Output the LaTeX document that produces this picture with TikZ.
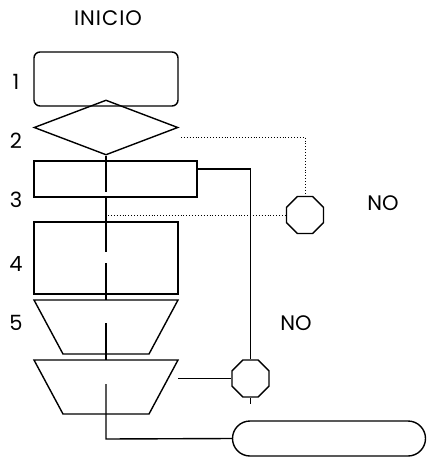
\documentclass[tikz,border=0pt]{standalone}
\usepackage{fontspec}
\setsansfont{Poppins}
\usetikzlibrary{shapes.geometric,shapes.misc}
\begin{document}
\begin{tikzpicture}[x=1pt,y=-1pt,font=\sffamily\fontsize{21}{21}\selectfont,line width=1.4pt,
  blk/.style={draw,inner sep=0pt},
  oct/.style={draw,regular polygon,regular polygon sides=8,minimum size=40pt,inner sep=0pt},
  hint/.style={dotted,line width=0.9pt}]
\useasboundingbox (0,0) rectangle (427,457);
\node (inicio) at (108,18) {I\kern1pt N\kern1pt I\kern1pt C\kern1pt I\kern1pt O};
\node[blk,rounded corners=6pt,minimum width=144pt,minimum height=54pt] (b1) at (106,79) {};
\node[blk,diamond,minimum width=144pt,minimum height=55pt] (d2) at (106,127.5) {};
\node[blk,minimum width=163pt,minimum height=36pt] (b3) at (115.5,179) {};
\node[blk,minimum width=144pt,minimum height=72pt] (b4) at (106,258) {};
% trapezia 5 and 6
\foreach \t/\y in {t5/300,t6/360} {
  \draw (34,\y) coordinate (\t) -- (178,\y) -- (149,\y+54) -- (63,\y+54) -- cycle;
}
\node[oct] (o1) at (305,215) {};
\node[oct] (o2) at (250.5,378.5) {};
\node[draw,rounded rectangle,minimum width=193pt,minimum height=35pt,inner sep=0pt] (fin) at (329,438.5) {};
% numbers
\foreach \n/\y in {1/82,2/141,3/200,4/264,5/323}
  \node (n\n) at (16,\y) {\n};
\node (no1) at (383,203) {NO};
\node (no2) at (296,323) {NO};
% connectors
\coordinate (c1) at (106,192);
\coordinate (c2) at (106,197);
\coordinate (c3) at (106,252);
\coordinate (c4) at (106,263);
\coordinate (c5) at (106,300);
\coordinate (c6) at (106,323);
\coordinate (c7) at (106,360);
\coordinate (c8) at (106,384);
\coordinate (c9) at (106,439);
\draw (d2.south) -- (c1);
\draw (c2) -- (c3);
\draw (c4) -- (c5);
\draw (c6) -- (c7);
\draw (c8) -- (c9) -- (fin.west);
\coordinate (d2out) at (181,137);
\coordinate (b3out) at (197,169);
\coordinate (j3) at (108,215);
\coordinate (t6out) at (178,378.5);
\coordinate (o2end) at (250.5,404);
\draw[hint] (d2out) -| (o1.north);
\draw[hint] (j3) -- (o1.west);
\draw (b3out) -| (o2.north);
\draw (t6out) -- (o2.west);
\draw (o2.south) -- (o2end);
\end{tikzpicture}
\end{document}
